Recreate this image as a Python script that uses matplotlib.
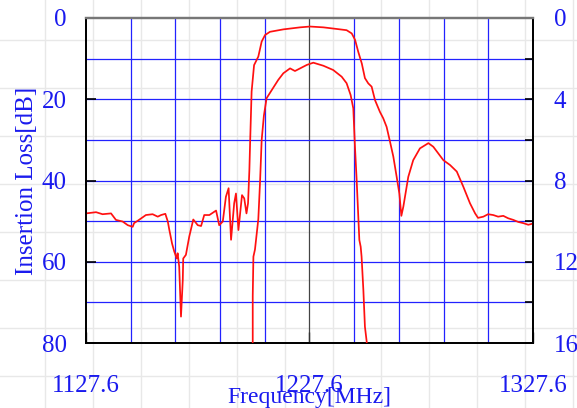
import matplotlib
matplotlib.use("Agg")
import matplotlib.pyplot as plt
from matplotlib.ticker import FixedLocator

# ---- data ----
# wide-band response, left axis (0..80 dB)
wide_freq = [1127.6, 1132.1, 1135.0, 1138.8, 1141.0, 1144.0, 1146.3, 1148.5, 1149.1, 1151.3,
             1154.4, 1157.4, 1159.7, 1161.2, 1163.1, 1164.2, 1164.9, 1166.1, 1167.1, 1168.2,
             1168.6, 1169.3, 1170.1, 1170.9, 1171.1, 1172.3, 1173.8, 1175.6, 1177.6, 1179.1,
             1180.5, 1182.8, 1185.8, 1187.2, 1188.8, 1190.2, 1191.4, 1192.5, 1193.9, 1194.7,
             1195.8, 1197.4, 1198.4, 1199.4, 1200.1, 1200.7, 1201.0, 1201.7, 1202.8, 1204.7,
             1206.2, 1207.7, 1209.9, 1215.9, 1223.4, 1227.8, 1233.8, 1239.8, 1244.2, 1246.5,
             1248.0, 1249.4, 1251.0, 1252.4, 1253.9, 1255.4, 1256.9, 1259.1, 1260.6, 1262.1,
             1263.6, 1265.1, 1266.6, 1267.8, 1268.7, 1269.6, 1271.8, 1274.0, 1277.0, 1280.8,
             1283.0, 1287.5, 1290.5, 1293.5, 1296.4, 1299.4, 1301.7, 1303.0, 1305.4, 1307.5,
             1309.8, 1312.0, 1314.3, 1316.5, 1318.8, 1321.0, 1323.3, 1325.5, 1327.6]
wide_loss = [48.1, 47.8, 48.3, 48.1, 49.7, 50.1, 51.0, 51.4, 50.5, 49.7,
             48.5, 48.3, 48.9, 48.5, 48.2, 50.1, 52.2, 55.5, 57.5, 59.2,
             57.9, 61.2, 73.5, 64.5, 59.2, 58.3, 53.8, 49.6, 51.0, 51.2,
             48.5, 48.5, 47.4, 51.0, 50.1, 44.0, 41.9, 54.6, 45.6, 43.2,
             52.2, 43.6, 44.4, 48.1, 45.6, 37.4, 31.3, 18.1, 11.6, 9.5,
             5.8, 4.2, 3.4, 2.8, 2.3, 2.1, 2.3, 2.7, 3.0, 3.8,
             5.4, 8.3, 11.2, 14.8, 16.1, 16.9, 20.2, 23.1, 24.7, 26.8,
             30.4, 34.1, 39.1, 43.2, 48.7, 46.4, 39.1, 35.0, 32.1, 30.8,
             31.7, 35.0, 36.2, 37.8, 41.5, 45.6, 48.1, 49.2, 48.9, 48.3,
             48.5, 48.9, 48.7, 49.3, 49.7, 50.2, 50.5, 50.9, 50.6]

# pass-band detail, right axis (0..16 dB)
pass_freq = [1202.0, 1202.2, 1202.2, 1202.5, 1203.2, 1204.7, 1205.5, 1206.2, 1207.2, 1208.4,
             1210.7, 1213.6, 1215.9, 1218.9, 1221.1, 1223.4, 1226.4, 1229.3, 1233.8, 1238.2,
             1242.0, 1244.2, 1246.0, 1247.2, 1247.9, 1248.7, 1249.9, 1250.5, 1250.9, 1251.7,
             1252.4, 1253.2, 1253.5]
pass_loss = [17.0, 15.9, 13.7, 11.75, 11.4, 9.9, 8.0, 6.0, 4.8, 3.95,
             3.55, 3.05, 2.72, 2.48, 2.61, 2.48, 2.31, 2.20, 2.35, 2.56,
             2.89, 3.21, 3.79, 4.45, 6.25, 7.98, 10.93, 11.26, 11.75, 13.39,
             15.2, 15.94, 17.0]

x_tick_vals = [1127.6, 1227.6, 1327.6]
x_tick_labels = ["1127.6", "1227.6", "1327.6"]
x_grid_vals = [1147.6, 1167.6, 1187.6, 1207.6, 1247.6, 1267.6, 1287.6, 1307.6]
left_ticks = [0, 20, 40, 60, 80]
left_minor = [10, 30, 50, 70]
right_ticks = [0, 4, 8, 12, 16]
right_minor = [2, 6, 10, 14]

TXT = "#1a1aee"
GRID = "#2222ff"
FONT = "Liberation Serif"

fig = plt.figure(figsize=(5.77, 4.08), dpi=100)

# page-style light background grid
bg = fig.add_axes([0, 0, 1, 1])
bg.set_xlim(0, 577)
bg.set_ylim(408, 0)
bg.axis("off")
for k in range(12):
    bg.axvline(45 + 48 * k, color="#e8e8e8", lw=1.0)
for k in range(8):
    bg.axhline(40 + 48 * k, color="#e8e8e8", lw=1.0)

ax = fig.add_axes([86 / 577, 65 / 408, 447 / 577, 325 / 408])
ax.patch.set_alpha(0)
ax.set_xlim(1127.6, 1327.6)
ax.set_ylim(80, 0)

# grid
for v in x_grid_vals:
    ax.axvline(v, color=GRID, lw=0.9, zorder=1)
ax.axvline(1227.6, color="#444444", lw=0.9, zorder=1)
for v in left_ticks[1:-1] + left_minor:
    ax.axhline(v, color=GRID, lw=0.9, zorder=1)

ax.plot(wide_freq, wide_loss, color="#ff1010", lw=1.25, zorder=3)

ax.xaxis.set_major_locator(FixedLocator(x_tick_vals))
ax.set_xticklabels(x_tick_labels)
ax.yaxis.set_major_locator(FixedLocator(left_ticks))
ax.tick_params(axis="x", direction="in", length=8, width=1.0, color="#333333",
               labelsize=18, labelcolor=TXT, pad=23)
ax.tick_params(axis="y", direction="in", length=7, width=1.2, color="black",
               labelsize=18, labelcolor=TXT, pad=14)
for lab in ax.get_xticklabels() + ax.get_yticklabels():
    lab.set_family(FONT)

ax.set_xlabel("Frequency[MHz]", fontsize=17, color=TXT, family=FONT, labelpad=-7)
ax.set_ylabel("Insertion Loss[dB]", fontsize=18, color=TXT, family=FONT, labelpad=2.5)

ax2 = ax.twinx()
ax2.set_ylim(16, 0)
ax2.plot(pass_freq, pass_loss, color="#ff1010", lw=1.25, zorder=3)
ax2.yaxis.set_major_locator(FixedLocator(right_ticks))
ax2.yaxis.set_minor_locator(FixedLocator(right_minor))
ax2.tick_params(axis="y", which="both", direction="in", length=6, width=1.2, color="black",
                labelsize=18, labelcolor=TXT, pad=15)
for lab in ax2.get_yticklabels():
    lab.set_family(FONT)

for a in (ax, ax2):
    for s in ("left", "right", "bottom"):
        a.spines[s].set_color("black")
        a.spines[s].set_linewidth(1.3)
    a.spines["top"].set_color("#777777")
    a.spines["top"].set_linewidth(1.6)

fig.savefig("out.png", dpi=100)
